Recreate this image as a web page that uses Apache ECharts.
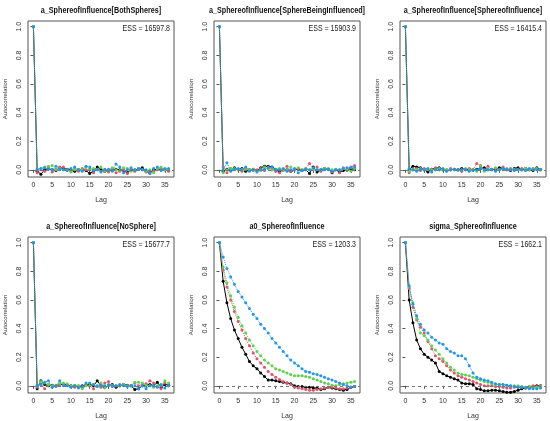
<!DOCTYPE html>
<html>
<head>
<meta charset="utf-8">
<script src="https://cdn.jsdelivr.net/npm/echarts@6/dist/echarts.min.js"></script>
<style>html,body{margin:0;padding:0;background:#fff}#c{width:550px;height:421px}</style>
</head>
<body>
<div id="c"></div>
<script>
const lags = [0,1,2,3,4,5,6,7,8,9,10,11,12,13,14,15,16,17,18,19,20,21,22,23,24,25,26,27,28,29,30,31,32,33,34,35,36];
const xTicks = [0,5,10,15,20,25,30,35];
const yTicks = [0,0.2,0.4,0.6,0.8,1.0];
const panelTitles = ["a_SphereofInfluence[BothSpheres]","a_SphereofInfluence[SphereBeingInfluenced]","a_SphereofInfluence[SphereofInfluence]","a_SphereofInfluence[NoSphere]","a0_SphereofInfluence","sigma_SphereofInfluence"];
const essLabels = ["ESS = 16597.8","ESS = 15903.9","ESS = 16415.4","ESS = 15677.7","ESS = 1203.3","ESS = 1662.1"];
const chainNames = ["chain1","chain2","chain3","chain4"];
const chainColors = ["#000000","#DF536B","#61D04F","#2297E6"];

// Panel 1: a_SphereofInfluence[BothSpheres]
const p1_black = [1,-0.01,-0.03,0.0,0.01,0.0,-0.005,0.015,0.01,0.005,0.0,-0.01,0.0,0.0,-0.005,-0.025,-0.01,0.02,0.0,-0.01,-0.005,0.0,0.005,0.0,-0.005,-0.02,0.0,0.0,0.005,0.015,-0.01,-0.02,0.0,0.005,0.0,0.0,-0.005];
const p1_red   = [1,-0.02,0.0,-0.01,0.02,-0.015,0.005,0.02,0.02,0.0,-0.01,0.005,-0.01,0.01,0.0,0.005,-0.02,0.0,-0.01,0.005,-0.015,0.01,-0.02,-0.01,0.0,-0.025,0.0,-0.01,0.01,0.0,-0.015,-0.02,-0.01,0.0,0.01,0.0,-0.01];
const p1_green = [1,0.0,0.01,0.02,0.025,0.03,0.0,0.01,0.0,0.0,-0.015,0.0,0.005,0.0,0.02,0.0,0.01,0.005,0.02,-0.01,0.0,0.015,0.0,-0.005,0.015,0.01,-0.01,0.0,0.005,0.0,-0.01,0.0,-0.02,0.01,0.02,0.0,0.005];
const p1_blue  = [1,0.005,0.01,0.015,0.005,0.0,0.025,0.005,0.0,-0.005,0.01,0.02,0.0,-0.01,0.025,0.02,-0.005,0.0,-0.015,0.0,0.005,-0.01,0.04,0.02,-0.02,0.0,0.015,-0.005,0.01,0.0,0.0,-0.025,0.01,0.02,-0.005,0.01,0.01];

// Panel 2: a_SphereofInfluence[SphereBeingInfluenced]
const p2_black = [1,-0.01,0.005,0.0,0.015,0.0,0.01,-0.01,0.0,0.005,-0.005,0.015,0.025,0.025,0.02,0.005,-0.01,0.0,0.0,-0.01,0.0,0.005,-0.005,0.0,-0.025,0.02,-0.015,0.0,0.01,0.005,-0.02,0.0,-0.015,-0.005,0.0,0.01,0.0];
const p2_red   = [1,0.02,-0.02,0.01,0.0,0.005,-0.01,0.015,0.0,-0.005,0.0,0.01,-0.005,0.02,0.0,-0.01,-0.02,-0.005,0.025,-0.01,0.0,0.01,0.0,0.01,0.045,0.0,0.02,-0.01,0.005,0.0,-0.015,0.0,-0.02,0.015,-0.005,0.02,0.03];
const p2_green = [1,-0.02,0.0,0.01,0.01,0.0,0.005,0.0,0.0,0.005,-0.01,-0.005,0.02,0.01,0.0,0.005,0.01,0.0,0.0,0.02,0.0,0.015,0.0,0.01,0.0,0.005,0.0,0.0,0.01,0.01,0.0,0.005,0.0,0.01,0.0,-0.01,0.01];
const p2_blue  = [1,0.0,0.05,-0.01,0.005,0.01,0.0,0.02,-0.01,0.0,-0.015,0.0,0.005,0.015,0.02,0.0,0.0,0.01,-0.01,0.0,0.01,-0.02,-0.005,0.005,0.0,0.015,0.0,0.0,0.0,0.005,-0.01,0.0,0.0,0.01,0.015,0.015,0.02];

// Panel 3: a_SphereofInfluence[SphereofInfluence]
const p3_black = [1,0.0,0.025,0.02,0.015,0.0,-0.015,0.005,0.01,0.015,0.0,-0.005,0.0,0.005,0.0,0.01,0.0,0.005,0.0,0.005,0.01,0.015,0.0,0.005,0.0,0.015,0.01,0.0,-0.005,0.01,0.015,0.0,0.01,0.0,-0.005,0.015,0.0];
const p3_red   = [1,-0.02,0.0,0.01,-0.005,0.01,0.0,0.0,0.015,0.0,0.005,-0.005,0.01,0.0,0.0,-0.01,0.0,0.01,0.0,0.045,0.03,0.0,0.025,0.0,0.01,0.0,0.02,0.0,0.01,-0.005,0.0,0.01,0.005,0.0,0.01,0.005,0.0];
const p3_green = [1,-0.01,0.005,0.0,0.01,0.0,0.005,0.0,0.0,0.01,0.0,0.005,0.0,0.0,-0.005,0.0,0.01,0.0,0.0,-0.01,0.025,-0.01,0.005,0.0,0.015,0.0,0.0,0.01,0.0,0.005,0.0,0.0,0.01,0.0,0.005,0.01,0.0];
const p3_blue  = [1,0.01,0.0,-0.01,0.005,0.0,0.01,-0.015,0.0,0.0,0.01,-0.01,0.0,0.005,0.0,0.0,0.005,-0.01,-0.005,0.0,0.01,0.0,0.0,0.005,-0.01,0.0,0.01,0.005,0.0,0.0,0.005,0.0,-0.005,0.01,0.0,0.0,0.005];

// Panel 4: a_SphereofInfluence[NoSphere]
const p4_black = [1,-0.02,0.035,0.01,0.0,0.005,0.0,0.01,0.01,0.005,0.0,0.0,-0.005,0.0,0.005,0.01,0.0,0.035,0.0,-0.01,0.0,0.01,-0.01,0.0,0.01,0.005,0.0,-0.025,-0.02,0.0,0.005,0.01,0.0,0.025,-0.01,0.01,0.005];
const p4_red   = [1,-0.01,0.015,-0.02,0.01,0.0,-0.005,0.0,0.01,0.005,-0.005,-0.01,0.0,-0.01,0.01,0.0,-0.02,0.0,-0.01,0.02,0.03,-0.005,0.0,0.0,0.01,0.0,0.005,0.02,0.0,0.01,0.015,0.035,0.02,-0.005,-0.02,0.02,0.0];
const p4_green = [1,0.0,0.03,0.02,0.01,0.0,0.0,0.015,0.02,0.015,0.0,0.005,0.0,-0.02,0.0,0.0,0.01,0.0,0.02,-0.015,0.0,0.005,0.0,0.0,0.01,0.0,0.0,0.025,0.025,0.02,0.005,0.0,-0.01,0.0,0.0,0.035,0.02];
const p4_blue  = [1,0.005,0.01,0.025,0.035,-0.01,0.0,0.035,0.0,0.0,-0.01,0.0,-0.015,-0.005,0.02,0.02,0.01,-0.005,0.0,0.0,0.01,0.0,0.0,0.01,0.0,-0.005,0.0,0.0,-0.02,0.0,-0.02,0.0,0.0,-0.01,0.01,-0.015,0.0];

// Panel 5: a0_SphereofInfluence
const p5_black = [1,0.73,0.58,0.47,0.39,0.33,0.27,0.22,0.17,0.14,0.12,0.09,0.065,0.04,0.04,0.035,0.03,0.025,0.02,0.015,0.0,-0.005,-0.005,-0.01,-0.01,-0.015,-0.015,-0.025,-0.02,-0.01,-0.015,-0.02,-0.025,-0.03,-0.025,-0.01,-0.005];
const p5_red   = [1,0.81,0.69,0.60,0.52,0.45,0.39,0.33,0.28,0.23,0.19,0.16,0.13,0.10,0.08,0.06,0.045,0.03,0.02,0.01,-0.01,-0.015,-0.02,-0.025,-0.03,-0.03,-0.025,-0.02,-0.015,-0.01,-0.01,-0.015,-0.02,-0.02,-0.015,-0.01,-0.005];
const p5_green = [1,0.83,0.72,0.63,0.55,0.48,0.42,0.37,0.32,0.28,0.24,0.21,0.18,0.16,0.14,0.12,0.11,0.10,0.09,0.08,0.07,0.07,0.07,0.065,0.06,0.05,0.04,0.03,0.02,0.015,0.005,0.0,0.01,0.015,0.02,0.025,0.03];
const p5_blue  = [1,0.90,0.82,0.76,0.71,0.66,0.62,0.58,0.54,0.50,0.47,0.43,0.40,0.37,0.33,0.30,0.27,0.24,0.21,0.18,0.16,0.14,0.12,0.10,0.095,0.085,0.08,0.07,0.06,0.05,0.04,0.03,0.02,0.01,0.0,-0.01,-0.005];

// Panel 6: sigma_SphereofInfluence
const p6_black = [1,0.60,0.44,0.32,0.26,0.22,0.20,0.18,0.16,0.10,0.085,0.07,0.06,0.05,0.04,0.02,0.015,0.015,0.01,-0.02,-0.025,-0.035,-0.035,-0.03,-0.03,-0.035,-0.04,-0.045,-0.045,-0.04,-0.03,-0.02,-0.015,-0.01,-0.005,0.0,0.0];
const p6_red   = [1,0.68,0.55,0.46,0.41,0.37,0.31,0.26,0.21,0.19,0.17,0.14,0.11,0.09,0.07,0.06,0.05,0.04,0.03,0.02,0.01,0.0,0.0,0.0,-0.005,-0.005,-0.01,-0.015,-0.015,-0.01,-0.01,-0.01,-0.01,-0.005,0.0,-0.005,0.0];
const p6_green = [1,0.69,0.58,0.47,0.37,0.35,0.32,0.28,0.25,0.22,0.19,0.16,0.13,0.11,0.09,0.08,0.075,0.07,0.06,0.05,0.04,0.03,0.025,0.015,0.01,0.01,0.01,0.005,0.0,0.0,0.0,-0.005,-0.01,-0.005,-0.01,-0.01,-0.005];
const p6_blue  = [1,0.70,0.57,0.49,0.43,0.39,0.37,0.34,0.32,0.30,0.29,0.26,0.24,0.23,0.21,0.21,0.19,0.14,0.09,0.06,0.05,0.04,0.035,0.025,0.015,0.01,0.01,0.005,0.0,-0.005,-0.01,-0.01,-0.015,-0.02,-0.02,-0.02,-0.015];

const panels = [
  [p1_black,p1_red,p1_green,p1_blue],
  [p2_black,p2_red,p2_green,p2_blue],
  [p3_black,p3_red,p3_green,p3_blue],
  [p4_black,p4_red,p4_green,p4_blue],
  [p5_black,p5_red,p5_green,p5_blue],
  [p6_black,p6_red,p6_green,p6_blue]
];

// layout
const colLefts = [28, 214, 400];
const rowTops = [21, 237];
const gW = 146, gH = 156;
const FONT = 'Liberation Sans, Arial, sans-serif';

const grids = [], xAxes = [], yAxes = [], series = [], graphics = [];
panels.forEach((chains, p) => {
  const left = colLefts[p % 3], top = rowTops[Math.floor(p / 3)];
  grids.push({left: left, top: top, width: gW, height: gH, show: true, borderColor: '#555', borderWidth: 1, backgroundColor: 'transparent', containLabel: false, outerBoundsMode: 'none'});
  xAxes.push({
    type: 'value', gridIndex: p, min: -1.44, max: 37.44,
    name: 'Lag', nameLocation: 'middle', nameGap: 20,
    nameTextStyle: {fontSize: 7, color: '#333', fontFamily: FONT},
    axisLine: {show: false},
    splitLine: {show: false},
    axisTick: {show: true, customValues: xTicks, length: 3, inside: false, lineStyle: {color: '#555'}},
    axisLabel: {show: true, customValues: xTicks, fontSize: 7, margin: 5, color: '#333', fontFamily: FONT}
  });
  yAxes.push({
    type: 'value', gridIndex: p, min: -0.05, max: 1.04,
    name: 'Autocorrelation', nameLocation: 'middle', nameGap: 20,
    nameTextStyle: {fontSize: 6, color: '#333', fontFamily: FONT},
    axisLine: {show: false},
    splitLine: {show: false},
    axisTick: {show: true, customValues: yTicks, length: 3, inside: false, lineStyle: {color: '#555'}},
    axisLabel: {show: true, customValues: yTicks, rotate: 90, fontSize: 7, margin: 5, color: '#333', fontFamily: FONT,
      formatter: v => v.toFixed(1)}
  });
  chains.forEach((vals, c) => {
    const s = {
      type: 'line', name: chainNames[c], xAxisIndex: p, yAxisIndex: p,
      data: lags.map((l, i) => [l, vals[i]]),
      symbol: 'circle', symbolSize: 3, showSymbol: true,
      itemStyle: {color: chainColors[c]},
      lineStyle: {color: chainColors[c], width: 1, type: c === 0 ? 'solid' : 'dotted'},
      animation: false, z: 2 + c
    };
    if (c === 0) {
      s.markLine = {silent: true, symbol: 'none', label: {show: false},
        lineStyle: {color: '#777', type: [3, 3], width: 1},
        data: [{yAxis: 0}]};
    }
    series.push(s);
  });
  graphics.push({type: 'text', x: left + gW / 2, y: top - 10, scaleX: 0.8,
    style: {text: panelTitles[p], font: 'bold 9px ' + FONT, fill: '#111', textAlign: 'center', textVerticalAlign: 'middle'}});
  graphics.push({type: 'text', x: left + gW - 4, y: top + 8, scaleX: 0.78,
    style: {text: essLabels[p], font: '9px ' + FONT, fill: '#222', textAlign: 'right', textVerticalAlign: 'middle'}});
});

const chart = echarts.init(document.getElementById('c'), null, {renderer: 'canvas'});
chart.setOption({
  backgroundColor: '#fff',
  animation: false,
  grid: grids, xAxis: xAxes, yAxis: yAxes, series: series,
  graphic: graphics
});
</script>
</body>
</html>
